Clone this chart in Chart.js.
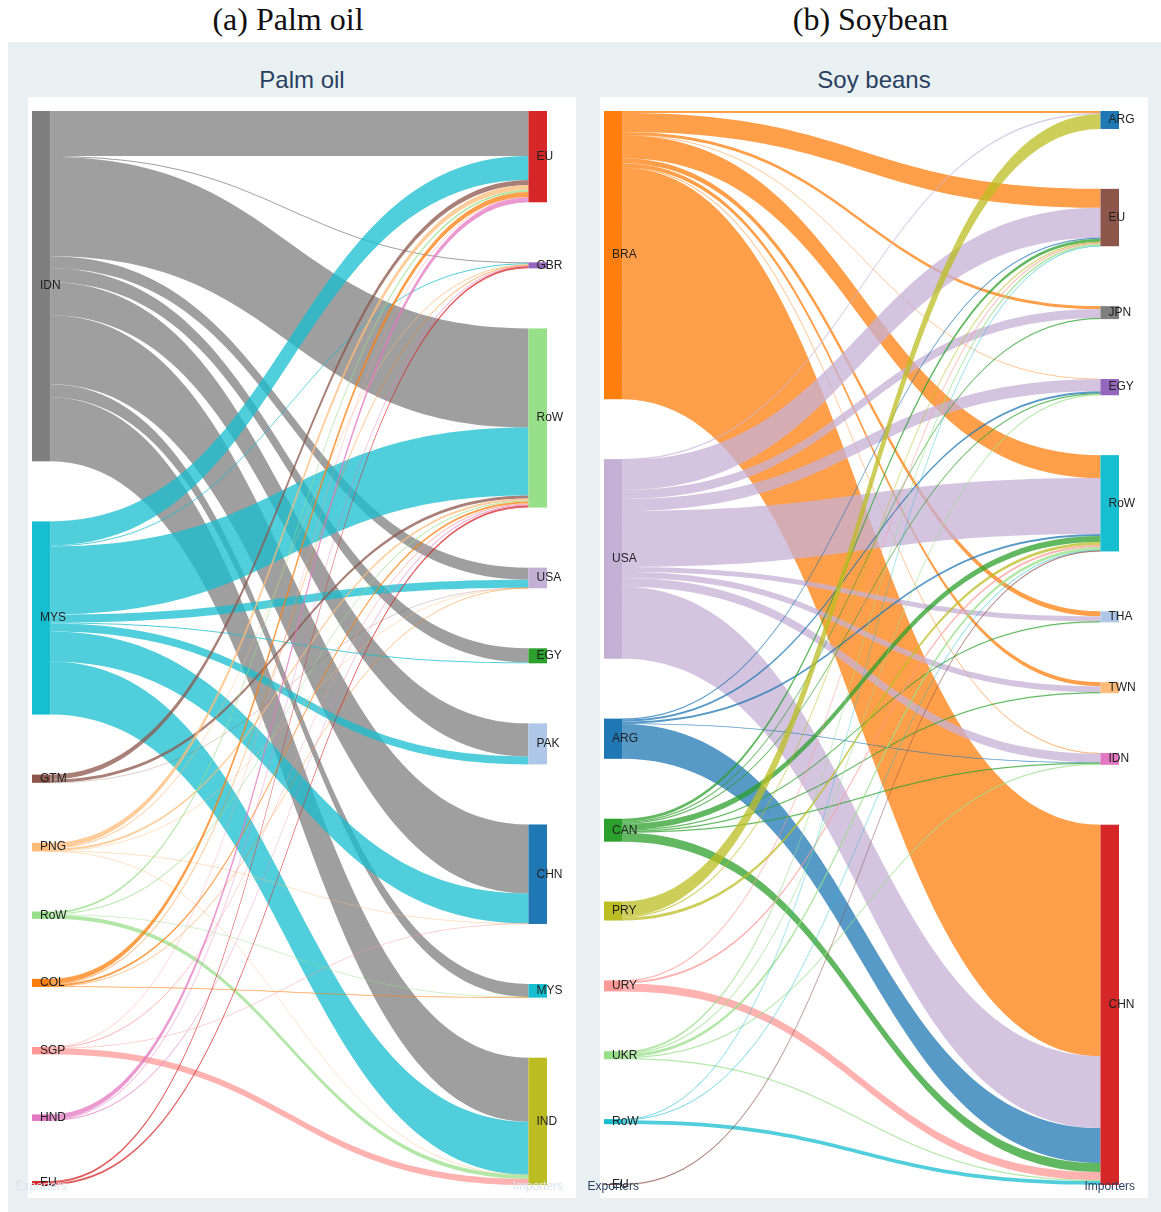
<!DOCTYPE html>
<html>
<head>
<meta charset="utf-8">
<script src="https://cdn.jsdelivr.net/npm/chart.js@4.4.1/dist/chart.umd.min.js"></script>
<style>
  html,body{margin:0;padding:0;background:#fff;}
  body{width:1161px;height:1212px;position:relative;overflow:hidden;}
  .cap{position:absolute;top:0;height:38px;line-height:38px;text-align:center;font-family:"Liberation Serif","DejaVu Serif",serif;font-size:32px;color:#111;}
  #bg{position:absolute;left:8px;top:42px;width:1153px;height:1170px;background:#e8f0f2;}
  .panel{position:absolute;top:97px;width:548px;height:1101px;background:#fff;}
  .ptitle{position:absolute;top:64px;height:32px;line-height:32px;text-align:center;font-family:"Liberation Sans",Arial,sans-serif;font-size:24px;color:#2a3f5f;}
  .cw{position:absolute;top:42px;width:580px;height:1170px;}
</style>
</head>
<body>
<div class="cap" style="left:0;width:576px;">(a) Palm oil</div>
<div class="cap" style="left:580px;width:581px;">(b) Soybean</div>
<div id="bg"></div>
<div class="panel" style="left:28px;"></div>
<div class="panel" style="left:600px;"></div>
<div class="ptitle" style="left:28px;width:548px;">Palm oil</div>
<div class="ptitle" style="left:600px;width:548px;">Soy beans</div>
<div class="cw" style="left:8px;"><canvas id="c1" width="580" height="1170"></canvas></div>
<div class="cw" style="left:580px;"><canvas id="c2" width="580" height="1170"></canvas></div>
<script>
// ---------- DATA ----------
// Palm oil
const palmExporters = ['IDN','MYS','GTM','PNG','RoW','COL','SGP','HND','EU'];
const palmImporters = ['EU','GBR','RoW','USA','EGY','PAK','CHN','MYS','IND'];
// rows = exporters, columns = importers (EU, GBR, RoW, USA, EGY, PAK, CHN, MYS, IND)
const palmIDN = [45, 1, 99, 12, 14, 33, 69, 13, 64];
const palmMYS = [24, 1, 68,  8,  1,  8, 30,  0, 53];
const palmGTM = [ 5, 0,  3, 0.2, 0,  0,  0,  0,  0];
const palmPNG = [ 5, 1,  2, 0.2, 0,  0, 0.2, 0, 0.2];
const palmRoW = [ 2, 0,  1,  0,  0,  0,  0, 0.3, 4];
const palmCOL = [ 5, 0.5, 2, 0.2, 0, 0,  0, 0.3, 0];
const palmSGP = [0.2, 0,  1,  0,  0,  0, 0.2, 0,  6];
const palmHND = [ 5, 0.5, 1,  0,  0,  0,  0,  0,  0];
const palmEU  = [ 0, 2,  2,  0,  0,  0,  0,  0,  0];
const palmFlows = [palmIDN, palmMYS, palmGTM, palmPNG, palmRoW, palmCOL, palmSGP, palmHND, palmEU];

// Soy beans
const soyExporters = ['BRA','USA','ARG','CAN','PRY','URY','UKR','RoW','EU'];
const soyImporters = ['ARG','EU','JPN','EGY','RoW','THA','TWN','IDN','CHN'];
// rows = exporters, columns = importers (ARG, EU, JPN, EGY, RoW, THA, TWN, IDN, CHN)
const soyBRA = [2, 19, 3, 0.3, 23, 5, 4, 0.5, 232];
const soyUSA = [1, 30, 9, 12, 56, 5, 6, 9, 72];
const soyARG = [0, 1, 0, 2, 2, 0, 0, 0.3, 35];
const soyCAN = [0, 3, 1, 1, 6, 1, 1, 1, 9];
const soyPRY = [15, 1, 0, 0, 3, 0, 0, 0, 0];
const soyURY = [0, 1, 0, 0, 2, 0, 0, 0, 8];
const soyUKR = [0, 2, 0, 1, 3, 0, 0, 1, 1];
const soyRoW = [0, 0.5, 0, 0, 0.5, 0, 0, 0, 4];
const soyEU  = [0, 0, 0, 0, 1, 0, 0, 0, 0];
const soyFlows = [soyBRA, soyUSA, soyARG, soyCAN, soyPRY, soyURY, soyUKR, soyRoW, soyEU];

// ---------- STYLE ----------
const palmExpColors = ['#7f7f7f','#17becf','#8c564b','#ffbb78','#98df8a','#ff7f0e','#ff9896','#e377c2','#d62728'];
const palmImpColors = ['#d62728','#9467bd','#98df8a','#c5b0d5','#2ca02c','#aec7e8','#1f77b4','#17becf','#bcbd22'];
const soyExpColors  = ['#ff7f0e','#c5b0d5','#1f77b4','#2ca02c','#bcbd22','#ff9896','#98df8a','#17becf','#8c564b'];
const soyImpColors  = ['#1f77b4','#8c564b','#7f7f7f','#9467bd','#17becf','#aec7e8','#ffbb78','#e377c2','#d62728'];
const NODE_W = 0.036;   // node width in x-scale units
const NODE_PAD = 60;    // gap between nodes, in value units
const LINK_ALPHA = 0.75;

function rgba(hex, a){
  const n = parseInt(hex.slice(1),16);
  return `rgba(${(n>>16)&255},${(n>>8)&255},${n&255},${a})`;
}

function layout(flows){
  const nE = flows.length, nI = flows[0].length;
  const outSum = flows.map(r=>r.reduce((a,b)=>a+b,0));
  const inSum = [];
  for(let j=0;j<nI;j++){let s=0;for(let i=0;i<nE;i++)s+=flows[i][j];inSum.push(s);}
  const sumL = outSum.reduce((a,b)=>a+b,0), sumR = inSum.reduce((a,b)=>a+b,0);
  const ymax = Math.max(sumL + (nE-1)*NODE_PAD, sumR + (nI-1)*NODE_PAD);
  const gapL = (ymax - sumL)/(nE-1), gapR = (ymax - sumR)/(nI-1);
  const yE=[], yI=[];
  let y=0; for(let i=0;i<nE;i++){yE.push(y); y+=outSum[i]+gapL;}
  y=0; for(let j=0;j<nI;j++){yI.push(y); y+=inSum[j]+gapR;}
  const src = flows.map(r=>r.map(()=>0)), tgt = flows.map(r=>r.map(()=>0));
  for(let i=0;i<nE;i++){let o=yE[i];for(let j=0;j<nI;j++){src[i][j]=o;o+=flows[i][j];}}
  for(let j=0;j<nI;j++){let o=yI[j];for(let i=0;i<nE;i++){tgt[i][j]=o;o+=flows[i][j];}}
  return {outSum,inSum,ymax,yE,yI,src,tgt};
}

function makeChart(canvasId, exporters, importers, flows, expColors, impColors, axisLabelColor){
  const L = layout(flows);
  const plugin = {
    id:'sankey_'+canvasId,
    afterDatasetsDraw(chart){
      const ctx = chart.ctx, xs = chart.scales.x, ys = chart.scales.y;
      const X = v=>xs.getPixelForValue(v), Y = v=>ys.getPixelForValue(v);
      const x0 = X(NODE_W), x1 = X(1-NODE_W), xm = (x0+x1)/2;
      ctx.save();
      for(let i=0;i<exporters.length;i++){
        for(let j=0;j<importers.length;j++){
          const v = flows[i][j]; if(!(v>0)) continue;
          const a0=Y(L.src[i][j]), a1=Y(L.src[i][j]+v), b0=Y(L.tgt[i][j]), b1=Y(L.tgt[i][j]+v);
          ctx.beginPath();
          ctx.moveTo(x0,a0);
          ctx.bezierCurveTo(xm,a0,xm,b0,x1,b0);
          ctx.lineTo(x1,b1);
          ctx.bezierCurveTo(xm,b1,xm,a1,x0,a1);
          ctx.closePath();
          ctx.fillStyle = rgba(expColors[i], LINK_ALPHA);
          ctx.fill();
          if(Y(v)-Y(0) < 1){
            ctx.strokeStyle = rgba(expColors[i], 0.3);
            ctx.lineWidth = 0.5;
            ctx.stroke();
          }
        }
      }
      for(let i=0;i<exporters.length;i++){
        const t=Y(L.yE[i]), b=Y(L.yE[i]+L.outSum[i]);
        ctx.fillStyle = expColors[i];
        ctx.fillRect(X(0), t, x0-X(0), Math.max(1,b-t));
      }
      for(let j=0;j<importers.length;j++){
        const t=Y(L.yI[j]), b=Y(L.yI[j]+L.inSum[j]);
        ctx.fillStyle = impColors[j];
        ctx.fillRect(x1, t, X(1)-x1, Math.max(1,b-t));
      }
      ctx.font = '12px "Liberation Sans", Arial, sans-serif';
      ctx.textBaseline = 'middle';
      ctx.textAlign = 'left';
      ctx.fillStyle = '#222';
      for(let i=0;i<exporters.length;i++){
        const c = Y(L.yE[i]+L.outSum[i]/2);
        ctx.fillText(exporters[i], X(0)+8, c);
      }
      for(let j=0;j<importers.length;j++){
        const c = Y(L.yI[j]+L.inSum[j]/2);
        ctx.fillText(importers[j], x1+8, c);
      }
      ctx.textAlign = 'center';
      ctx.fillStyle = axisLabelColor;
      const yb = Y(L.ymax)+2;
      ctx.fillText('Exporters', (X(0)+x0)/2, yb);
      ctx.fillText('Importers', (X(1)+x1)/2, yb);
      ctx.restore();
    }
  };
  return new Chart(document.getElementById(canvasId), {
    type:'scatter',
    data:{datasets:[]},
    options:{
      responsive:false, animation:false, devicePixelRatio:1,
      layout:{padding:{left:24,right:41,top:69,bottom:27}},
      plugins:{legend:{display:false},tooltip:{enabled:false},title:{display:false}},
      scales:{
        x:{type:'linear',min:0,max:1,display:false},
        y:{type:'linear',min:0,max:L.ymax,reverse:true,display:false}
      }
    },
    plugins:[plugin]
  });
}

makeChart('c1', palmExporters, palmImporters, palmFlows, palmExpColors, palmImpColors, '#dbe4ec');
makeChart('c2', soyExporters, soyImporters, soyFlows, soyExpColors, soyImpColors, '#2a3f5f');
</script>
</body>
</html>
